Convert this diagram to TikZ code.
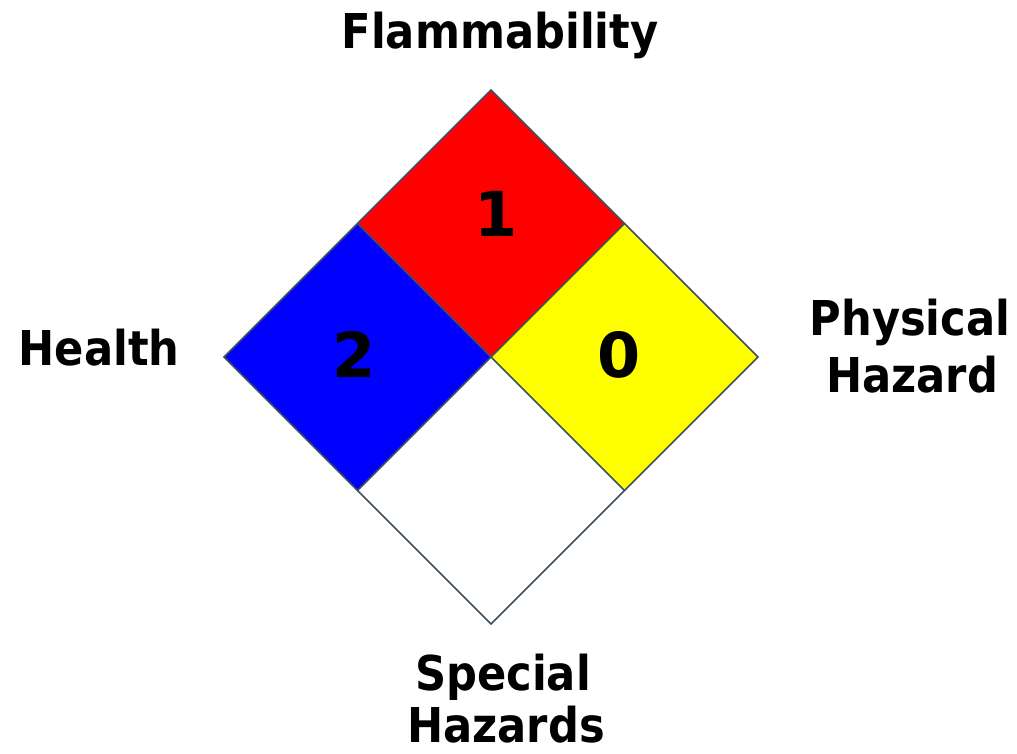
\documentclass[tikz,border=0pt]{standalone}
\usepackage{fontspec}
\setmainfont{DejaVu Sans}
\newfontfamily\labfont[FakeStretch=0.9]{DejaVu Sans Bold}
\newfontfamily\numfont{DejaVu Sans Bold}
\definecolor{edgec}{RGB}{64,78,98}
\definecolor{yel}{RGB}{255,255,0}
\definecolor{redc}{RGB}{255,0,0}
\definecolor{bluec}{RGB}{0,0,255}
\begin{document}
\begin{tikzpicture}[x=1pt,y=-1pt,
  quad/.style={draw=edgec, line width=1.6pt, line join=miter},
  lab/.style={font=\labfont\fontsize{48}{57}\selectfont, text=black, anchor=base, inner sep=0pt},
  num/.style={font=\numfont\fontsize{62}{62}\selectfont, text=black, anchor=base, inner sep=0pt}]
\useasboundingbox (0,0) rectangle (1017,753);
\coordinate (T) at (491,90);
\coordinate (L) at (224,357);
\coordinate (R) at (758,357);
\coordinate (B) at (491,624);
\coordinate (C) at (491,357);
\coordinate (TL) at (357.5,223.5);
\coordinate (TR) at (624.5,223.5);
\coordinate (BL) at (357.5,490.5);
\coordinate (BR) at (624.5,490.5);
\fill[redc] (T) -- (TR) -- (C) -- (TL) -- cycle;
\fill[bluec] (TL) -- (C) -- (BL) -- (L) -- cycle;
\fill[yel] (TR) -- (R) -- (BR) -- (C) -- cycle;
\fill[white] (C) -- (BR) -- (B) -- (BL) -- cycle;
\draw[quad] (T) -- (R) -- (B) -- (L) -- cycle;
\draw[quad] (TL) -- (BR);
\draw[quad] (TR) -- (BL);
\node[num] (n1) at (496,236) {1};
\node[num] (n2) at (354,377) {2};
\node[num] (n0) at (619,377) {0};
\node[lab] (flam) at (500,48) {Flammability};
\node[lab] (health) at (99,365) {Health};
\node[lab] (phys1) at (910,335) {Physical};
\node[lab] (phys2) at (912,392) {Hazard};
\node[lab] (spec1) at (503,690) {Special};
\node[lab] (spec2) at (506,742) {Hazards};
\end{tikzpicture}
\end{document}
